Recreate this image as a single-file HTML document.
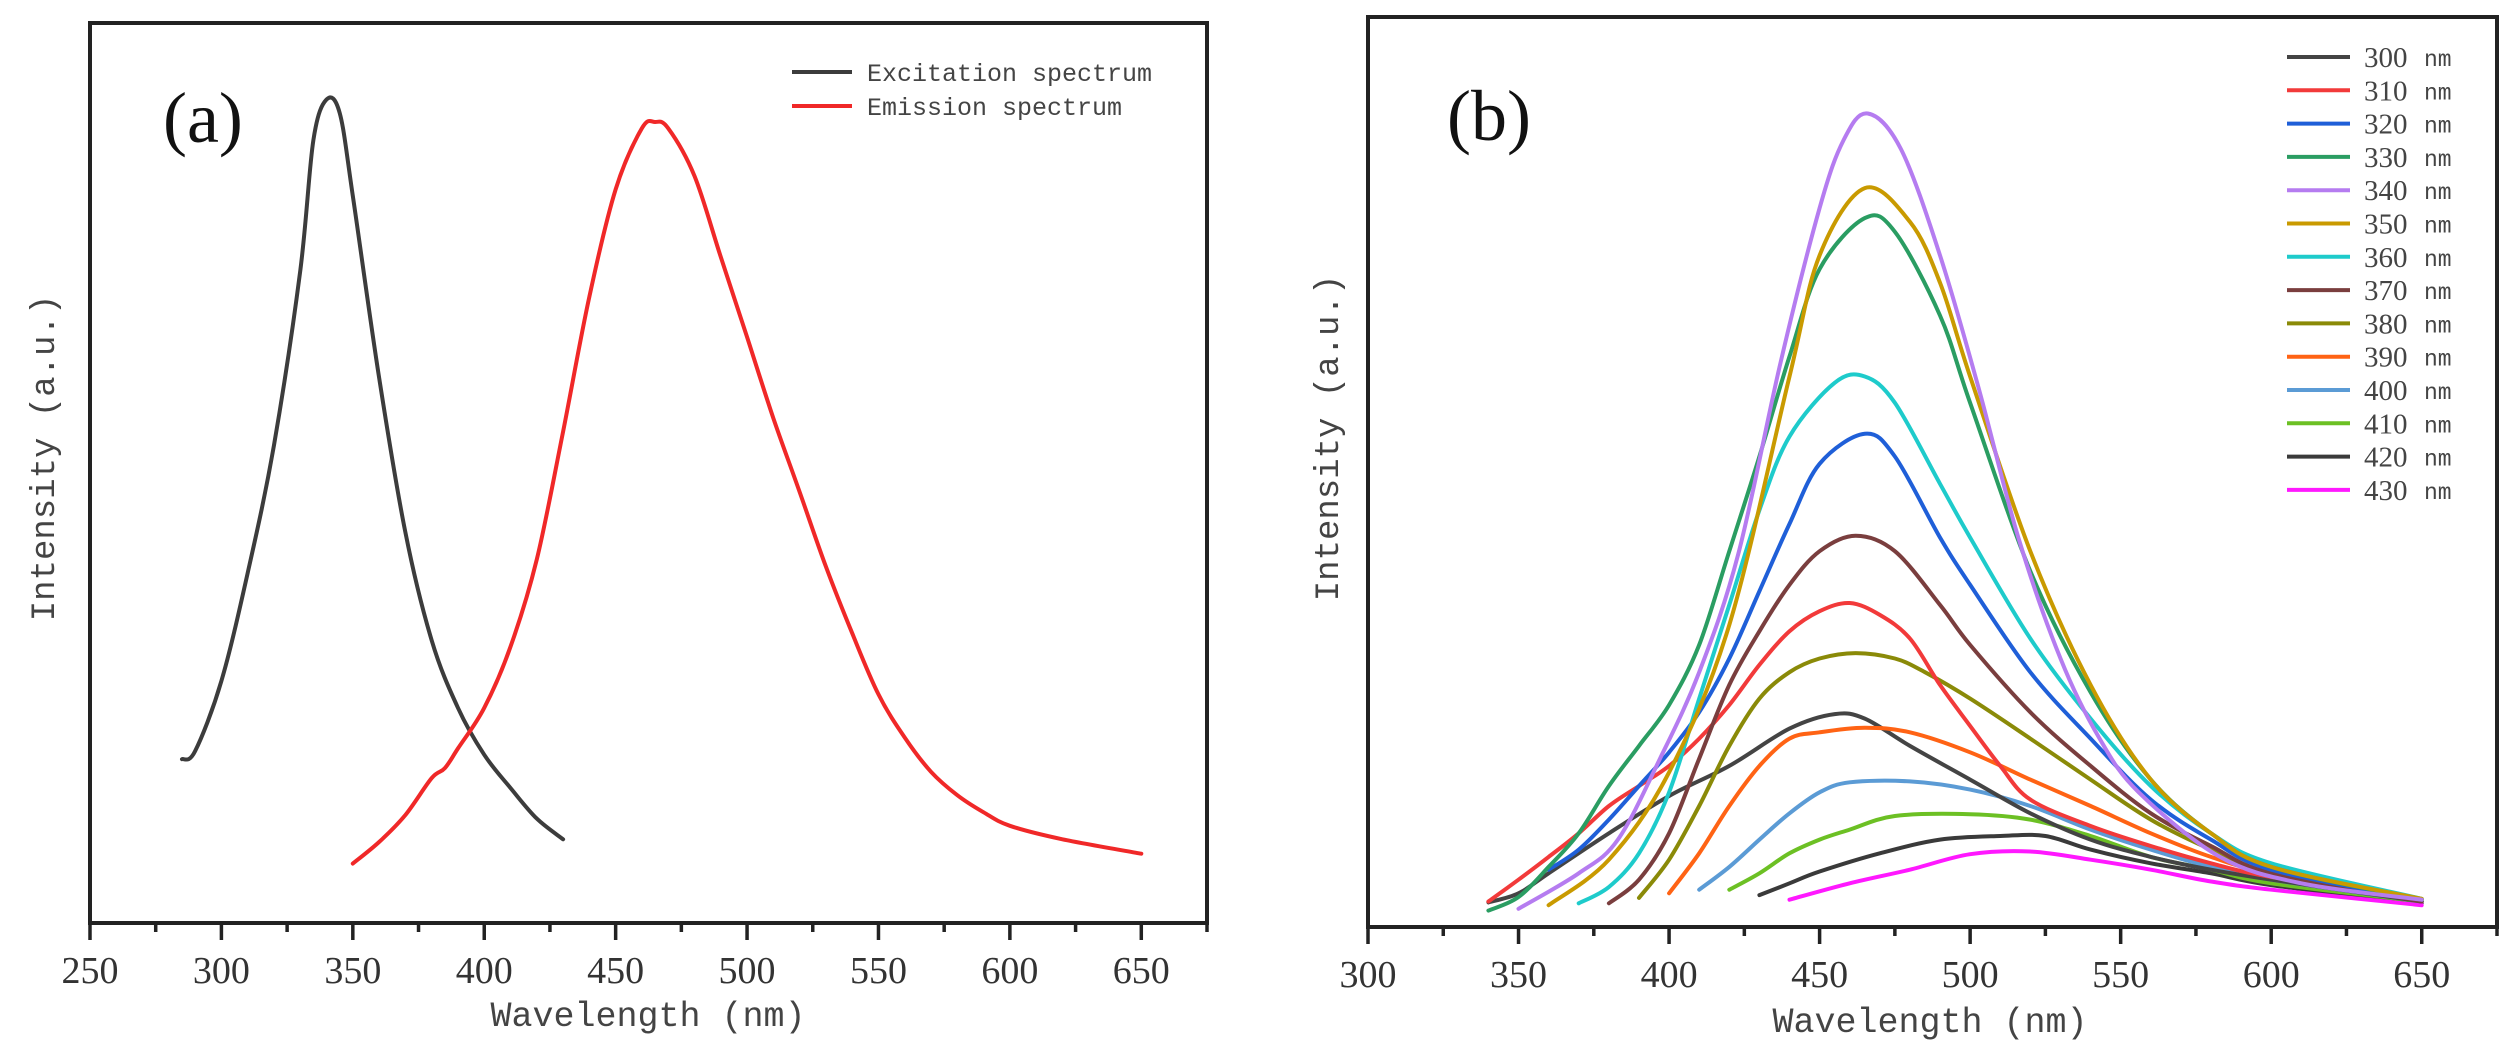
<!DOCTYPE html>
<html><head><meta charset="utf-8">
<style>
html,body{margin:0;padding:0;background:#fff;}
svg{display:block;}
.tick{font-family:"Liberation Serif",serif;font-size:38px;fill:#333;}
.mono{font-family:"Liberation Mono",monospace;fill:#444;}
</style></head>
<body>
<svg id="chart" width="2516" height="1055" viewBox="0 0 2516 1055" xmlns="http://www.w3.org/2000/svg"></svg>
<script>
// ---- Panel (a) data ----
const exWl = [285,290,300,310,320,330,335,340,345,350,360,370,380,390,400,410,420,430];
const exI  = [18.2,19.1,26.9,38.9,53.1,72.5,87.0,91.5,90.0,80.8,60.6,43.4,31.4,23.9,18.7,15.0,11.6,9.3];
const emWl = [350,360,370,380,385,390,400,410,420,430,440,450,460,465,470,480,490,500,510,520,530,540,550,560,570,580,590,600,620,650];
const emI  = [6.6,9.0,12.0,16.1,17.2,19.4,23.9,30.7,40.4,54.6,69.6,81.5,88.3,89.0,88.3,83.0,74.0,65.1,56.1,47.9,39.6,32.2,25.4,20.6,16.8,14.2,12.3,10.8,9.3,7.7];
const aTicks = [250,300,350,400,450,500,550,600,650];

// ---- Panel (b) data ----
const bLabels = ["300 nm","310 nm","320 nm","330 nm","340 nm","350 nm","360 nm","370 nm","380 nm","390 nm","400 nm","410 nm","420 nm","430 nm"];
const bColors = ["#444444","#f23a3a","#1f5fd8","#2a9d62","#b57cf0","#c99a00","#1ecbcb","#7a3e3e","#8a8a08","#ff6314","#5b9bd5","#6cc024","#3a3a3a","#ff18ff"];
const s300W=[340,350,360,380,400,420,440,455,465,480,500,520,540,560,580,600,650];
const s300I=[2.7,3.7,5.9,10.3,14.4,17.7,21.8,23.4,22.9,19.9,16.2,12.5,9.6,7.7,6.3,5.2,2.8];
const s310W=[340,350,360,370,380,390,400,410,420,430,440,450,460,470,480,490,500,510,520,540,560,580,600,650];
const s310I=[2.8,5.2,7.7,10.3,13.3,15.5,17.7,20.7,24.4,28.8,32.5,34.7,35.6,34.3,31.7,26.6,22.1,17.7,14.0,11.1,8.9,7.0,5.5,3.0];
const s320W=[360,370,380,390,400,410,420,430,440,450,465,475,490,500,520,540,560,580,600,650];
const s320I=[6.3,8.5,11.8,15.5,19.2,23.6,29.5,36.9,44.3,50.9,54.2,51.7,42.8,37.6,28.0,20.7,14.0,9.6,6.3,3.0];
const s330W=[340,350,360,370,380,390,400,410,420,430,440,450,465,475,490,500,520,540,560,580,600,650];
const s330I=[1.8,3.3,6.6,10.3,15.5,19.9,24.4,31.0,41.3,51.7,62.7,72.3,77.9,76.4,67.2,57.6,39.1,25.8,16.2,10.3,6.6,3.0];
const s340W=[350,370,383,397,410,423,437,450,458,466,477,490,503,516,530,543,556,583,610,650];
const s340I=[2.0,5.9,9.6,18.5,28.0,41.0,62.0,79.0,86.5,89.4,85.5,73.8,59.0,42.8,29.5,20.7,14.8,7.7,4.8,3.0];
const s350W=[360,380,400,420,440,450,465,480,490,500,520,540,560,580,600,650];
const s350I=[2.4,7.4,17.0,33.2,60.5,73.8,81.2,77.5,70.8,60.5,41.3,26.6,16.2,10.3,6.6,3.1];
const s360W=[370,380,390,400,410,420,430,440,455,465,475,490,500,520,540,560,580,600,650];
const s360I=[2.6,4.4,8.1,14.8,25.1,35.4,45.8,53.9,59.8,60.5,57.6,48.7,42.8,31.7,22.9,15.5,10.3,7.0,3.1];
const s370W=[380,390,400,410,420,430,440,450,462,475,490,500,520,540,560,580,600,650];
const s370I=[2.6,5.2,10.3,18.5,26.6,32.5,37.6,41.3,43.0,41.3,35.4,31.0,23.6,17.7,12.5,8.9,5.9,2.8];
const s380W=[390,400,410,420,430,440,450,462,475,485,500,520,540,560,580,600,650];
const s380I=[3.2,7.4,13.3,19.9,25.1,28.0,29.5,30.1,29.5,28.0,25.1,20.7,16.2,11.8,8.5,5.9,3.0];
const s390W=[400,410,420,430,440,450,465,480,500,520,540,560,580,600,650];
const s390I=[3.7,8.1,13.3,17.7,20.7,21.4,21.9,21.4,19.2,16.2,13.3,10.3,7.7,5.9,3.0];
const s400W=[410,420,430,440,450,460,480,500,520,540,560,580,600,650];
const s400I=[4.1,6.6,9.6,12.5,14.8,15.9,16.0,15.1,13.3,10.7,8.5,6.6,5.2,2.8];
const s410W=[420,430,440,450,460,475,500,520,540,560,580,600,650];
const s410I=[4.1,5.9,8.1,9.6,10.7,12.2,12.4,11.8,10.0,7.7,6.3,4.8,2.8];
const s420W=[430,440,450,470,490,510,525,540,560,580,600,650];
const s420I=[3.5,4.8,6.1,8.1,9.6,10.0,10.0,8.5,7.0,5.9,4.6,2.6];
const s430W=[440,460,480,500,520,540,560,580,600,650];
const s430I=[3.0,4.8,6.3,8.0,8.3,7.4,6.3,5.0,4.1,2.4];
const bTicks = [300,350,400,450,500,550,600,650];

const NS="http://www.w3.org/2000/svg";
const svg=document.getElementById('chart');
function mk(tag,attrs,parent){const e=document.createElementNS(NS,tag);for(const k in attrs)e.setAttribute(k,attrs[k]);(parent||svg).appendChild(e);return e;}
function smooth(pts){
  let d="M"+pts[0][0].toFixed(1)+","+pts[0][1].toFixed(1);
  for(let i=0;i<pts.length-1;i++){
    const p0=pts[Math.max(0,i-1)],p1=pts[i],p2=pts[i+1],p3=pts[Math.min(pts.length-1,i+2)];
    const c1=[p1[0]+(p2[0]-p0[0])/6,p1[1]+(p2[1]-p0[1])/6];
    const c2=[p2[0]-(p3[0]-p1[0])/6,p2[1]-(p3[1]-p1[1])/6];
    d+=" C"+c1[0].toFixed(1)+","+c1[1].toFixed(1)+" "+c2[0].toFixed(1)+","+c2[1].toFixed(1)+" "+p2[0].toFixed(1)+","+p2[1].toFixed(1);
  }
  return d;
}
function panel(cfg){
  const g=mk('g',{});
  
  
  const xs=w=>cfg.x0+(w-cfg.wmin)*(cfg.x1-cfg.x0)/(cfg.wmax-cfg.wmin);
  const ys=v=>cfg.yb-v*(cfg.yb-cfg.yt)/100;
  const frame=mk('rect',{x:cfg.x0,y:cfg.yt,width:cfg.x1-cfg.x0,height:cfg.yb-cfg.yt,fill:'none',stroke:'#222','stroke-width':4},g);
  
  
  for(let w=cfg.wmin;w<=cfg.wmax;w+=25){
    const major=(w%50===0);
    const t=mk('line',{x1:xs(w),x2:xs(w),y1:cfg.yb,y2:cfg.yb+(major?17:9),stroke:'#222','stroke-width':3.5},g);
    
    
  }
  cfg.ticks.forEach(w=>{
    const t=mk('text',{x:xs(w),y:cfg.yb+60,'text-anchor':'middle',class:'tick'},g);
    t.textContent=w;
    
    
  });
  cfg.series.forEach(s=>{
    const pts=s.w.map((w,i)=>[xs(w),ys(s.v[i])]);
    const p=mk('path',{d:smooth(pts),fill:'none',stroke:s.color,'stroke-width':4,'stroke-linejoin':'round','stroke-linecap':'round'},g);
    
    
  });
  return g;
}
panel({name:'panel-a',x0:90,x1:1207,wmin:250,wmax:675,yt:23,yb:923,ticks:aTicks,series:[
  {name:'excitation-line',color:'#3c3c3c',w:exWl,v:exI},
  {name:'emission-line',color:'#f02828',w:emWl,v:emI}]});
const bSeries=[s300W,s310W,s320W,s330W,s340W,s350W,s360W,s370W,s380W,s390W,s400W,s410W,s420W,s430W];
const bVals=[s300I,s310I,s320I,s330I,s340I,s350I,s360I,s370I,s380I,s390I,s400I,s410I,s420I,s430I];
const order=[12,13,11,10,0,9,8,1,7,2,6,3,5,4];
panel({name:'panel-b',x0:1368,x1:2497,wmin:300,wmax:675,yt:17,yb:927,ticks:bTicks,
  series:order.map(i=>({name:'series-'+bLabels[i].replace(' ','-'),color:bColors[i],w:bSeries[i],v:bVals[i]}))});

function txt(str,attrs,name){const t=mk('text',attrs);t.textContent=str;return t;}
txt('Wavelength (nm)',{x:648,y:1026,'text-anchor':'middle',class:'mono','font-size':35},'x-axis-title-a');
txt('Wavelength (nm)',{x:1930,y:1032,'text-anchor':'middle',class:'mono','font-size':35},'x-axis-title-b');
txt('Intensity (a.u.)',{x:0,y:0,'text-anchor':'middle',class:'mono','font-size':34,transform:'translate(54,458) rotate(-90)'},'y-axis-title-a');
txt('Intensity (a.u.)',{x:0,y:0,'text-anchor':'middle',class:'mono','font-size':34,transform:'translate(1338,438) rotate(-90)'},'y-axis-title-b');
txt('(a)',{x:163,y:142,'font-family':'Liberation Serif, serif','font-size':72,fill:'#111'},'panel-label-a');
txt('(b)',{x:1447,y:140,'font-family':'Liberation Serif, serif','font-size':72,fill:'#111'},'panel-label-b');
const legA=[['Excitation spectrum','#3c3c3c'],['Emission spectrum','#f02828']];
legA.forEach((l,i)=>{
  const y=72+i*34;
  const ln=mk('line',{x1:792,x2:852,y1:y,y2:y,stroke:l[1],'stroke-width':4});
  
  
  txt(l[0],{x:867,y:y+9,class:'mono','font-size':25},'legend-entry-a');
});
bLabels.forEach((l,i)=>{
  const y=57+i*33.3;
  const ln=mk('line',{x1:2287,x2:2350,y1:y,y2:y,stroke:bColors[i],'stroke-width':4});
  
  
  const parts=l.split(' ');
  txt(parts[0],{x:2364,y:y+10,'font-family':'Liberation Serif, serif','font-size':29,fill:'#444'},'legend-entry-b');
  txt(parts[1],{x:2424,y:y+9,class:'mono','font-size':23},'legend-unit-b');
});
</script>
</body></html>
